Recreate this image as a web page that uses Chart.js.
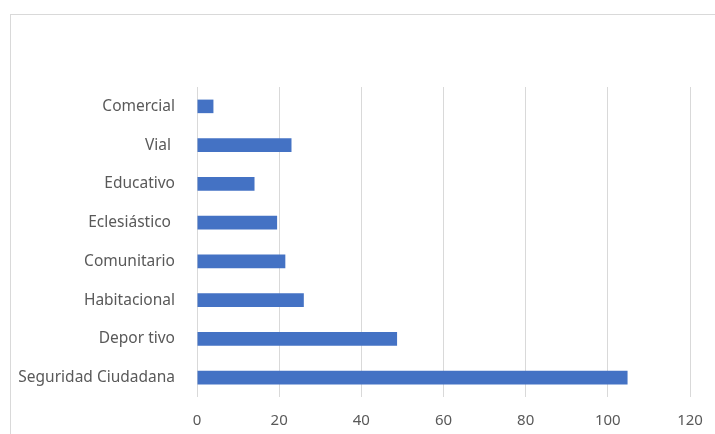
<!DOCTYPE html>
<html>
<head>
<meta charset="utf-8">
<script src="https://cdn.jsdelivr.net/npm/chart.js@4"></script>
<style>
    html, body { margin: 0; padding: 0; background: #fff; overflow: hidden; }
    #frame { position: absolute; left: 10px; top: 14px; width: 720px; height: 440px; border: 1px solid #d9d9d9; }
    #wrap { position: absolute; left: 0; top: 0; width: 715px; height: 434px; }
</style>
</head>
<body>
<div id="frame"></div>
<div id="wrap"><canvas id="myChart"></canvas></div>
<script>
const categories = ['Comercial', 'Vial ', 'Educativo', 'Eclesiástico ', 'Comunitario', 'Habitacional', 'Depor tivo', 'Seguridad Ciudadana'];
const values = [4, 23, 14, 19.5, 21.5, 26, 48.7, 104.8];
const xTicks = [0, 20, 40, 60, 80, 100, 120];

const ctx = document.getElementById('myChart').getContext('2d');

const myChart = new Chart(ctx, {
    type: 'bar',
    data: {
        labels: categories,
        datasets: [{
            label: 'Cantidad',
            data: values,
            backgroundColor: '#4472C4',
            borderWidth: 0,
            barPercentage: 0.7,
            categoryPercentage: 0.5
        }]
    },
    options: {
        indexAxis: 'y',
        responsive: true,
        maintainAspectRatio: false,
        animation: false,
        layout: { padding: { top: 87, right: 25, left: 0, bottom: 0 } },
        plugins: {
            legend: { display: false },
            tooltip: { enabled: false }
        },
        scales: {
            x: {
                min: 0,
                max: 120,
                afterBuildTicks: scale => { scale.ticks = xTicks.map(v => ({ value: v })); },
                grid: { color: '#d9d9d9', drawTicks: false, lineWidth: 1 },
                border: { display: false },
                ticks: { color: '#595959', font: { family: 'Noto Sans', size: 15 }, padding: 15 },
                afterFit: scale => {
                    scale.height = 37;
                    scale.paddingLeft = 0;
                    scale.paddingRight = 0;
                }
            },
            y: {
                grid: { display: false },
                border: { display: false },
                ticks: { color: '#595959', font: { family: 'Noto Sans', size: 15.5 }, padding: 14 },
                afterFit: scale => {
                    scale.width = 197;
                    scale.paddingTop = 0;
                    scale.paddingBottom = 0;
                }
            }
        }
    }
});
</script>
</body>
</html>
